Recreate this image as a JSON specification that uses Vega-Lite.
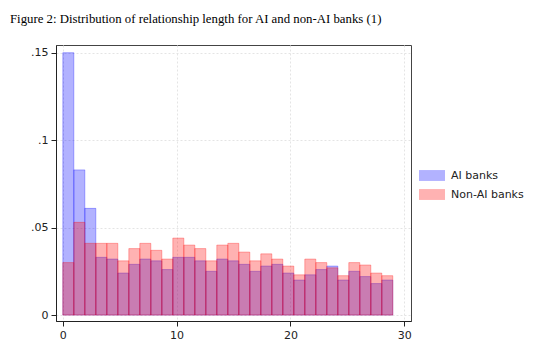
{
  "$schema": "https://vega.github.io/schema/vega-lite/v6.json",
  "autosize": {"type": "none"},
  "width": 355,
  "height": 276,
  "padding": {"left": 56, "top": 45, "right": 127, "bottom": 38},
  "background": "white",
  "title": {
    "text": "Figure 2: Distribution of relationship length for AI and non-AI banks (1)",
    "anchor": "start",
    "frame": "group",
    "dx": -46,
    "offset": 9,
    "baseline": "alphabetic",
    "font": "Liberation Serif",
    "fontSize": 12.8,
    "fontWeight": "normal",
    "color": "black"
  },
  "config": {
    "view": {"stroke": "#444", "strokeWidth": 1},
    "axis": {
      "labelFont": "DejaVu Sans",
      "labelFontSize": 11,
      "labelColor": "#222",
      "domainColor": "#222",
      "tickColor": "#222",
      "tickSize": 5,
      "gridColor": "#e4e4e4",
      "gridDash": [2, 2],
      "gridWidth": 1,
      "title": null
    }
  },
  "data": {
    "values": [
      {"group": "AI banks", "start": 0, "end": 0.9667, "density": 0.150},
      {"group": "AI banks", "start": 0.9667, "end": 1.9333, "density": 0.083},
      {"group": "AI banks", "start": 1.9333, "end": 2.9, "density": 0.061},
      {"group": "AI banks", "start": 2.9, "end": 3.8667, "density": 0.033},
      {"group": "AI banks", "start": 3.8667, "end": 4.8333, "density": 0.032},
      {"group": "AI banks", "start": 4.8333, "end": 5.8, "density": 0.024},
      {"group": "AI banks", "start": 5.8, "end": 6.7667, "density": 0.029},
      {"group": "AI banks", "start": 6.7667, "end": 7.7333, "density": 0.032},
      {"group": "AI banks", "start": 7.7333, "end": 8.7, "density": 0.031},
      {"group": "AI banks", "start": 8.7, "end": 9.6667, "density": 0.026},
      {"group": "AI banks", "start": 9.6667, "end": 10.6333, "density": 0.033},
      {"group": "AI banks", "start": 10.6333, "end": 11.6, "density": 0.033},
      {"group": "AI banks", "start": 11.6, "end": 12.5667, "density": 0.031},
      {"group": "AI banks", "start": 12.5667, "end": 13.5333, "density": 0.025},
      {"group": "AI banks", "start": 13.5333, "end": 14.5, "density": 0.032},
      {"group": "AI banks", "start": 14.5, "end": 15.4667, "density": 0.031},
      {"group": "AI banks", "start": 15.4667, "end": 16.4333, "density": 0.029},
      {"group": "AI banks", "start": 16.4333, "end": 17.4, "density": 0.025},
      {"group": "AI banks", "start": 17.4, "end": 18.3667, "density": 0.028},
      {"group": "AI banks", "start": 18.3667, "end": 19.3333, "density": 0.029},
      {"group": "AI banks", "start": 19.3333, "end": 20.3, "density": 0.024},
      {"group": "AI banks", "start": 20.3, "end": 21.2667, "density": 0.020},
      {"group": "AI banks", "start": 21.2667, "end": 22.2333, "density": 0.023},
      {"group": "AI banks", "start": 22.2333, "end": 23.2, "density": 0.026},
      {"group": "AI banks", "start": 23.2, "end": 24.1667, "density": 0.028},
      {"group": "AI banks", "start": 24.1667, "end": 25.1333, "density": 0.020},
      {"group": "AI banks", "start": 25.1333, "end": 26.1, "density": 0.025},
      {"group": "AI banks", "start": 26.1, "end": 27.0667, "density": 0.022},
      {"group": "AI banks", "start": 27.0667, "end": 28.0333, "density": 0.018},
      {"group": "AI banks", "start": 28.0333, "end": 29, "density": 0.020},
      {"group": "Non-AI banks", "start": 0, "end": 0.9667, "density": 0.030},
      {"group": "Non-AI banks", "start": 0.9667, "end": 1.9333, "density": 0.053},
      {"group": "Non-AI banks", "start": 1.9333, "end": 2.9, "density": 0.041},
      {"group": "Non-AI banks", "start": 2.9, "end": 3.8667, "density": 0.041},
      {"group": "Non-AI banks", "start": 3.8667, "end": 4.8333, "density": 0.041},
      {"group": "Non-AI banks", "start": 4.8333, "end": 5.8, "density": 0.031},
      {"group": "Non-AI banks", "start": 5.8, "end": 6.7667, "density": 0.038},
      {"group": "Non-AI banks", "start": 6.7667, "end": 7.7333, "density": 0.041},
      {"group": "Non-AI banks", "start": 7.7333, "end": 8.7, "density": 0.037},
      {"group": "Non-AI banks", "start": 8.7, "end": 9.6667, "density": 0.032},
      {"group": "Non-AI banks", "start": 9.6667, "end": 10.6333, "density": 0.044},
      {"group": "Non-AI banks", "start": 10.6333, "end": 11.6, "density": 0.040},
      {"group": "Non-AI banks", "start": 11.6, "end": 12.5667, "density": 0.038},
      {"group": "Non-AI banks", "start": 12.5667, "end": 13.5333, "density": 0.031},
      {"group": "Non-AI banks", "start": 13.5333, "end": 14.5, "density": 0.040},
      {"group": "Non-AI banks", "start": 14.5, "end": 15.4667, "density": 0.041},
      {"group": "Non-AI banks", "start": 15.4667, "end": 16.4333, "density": 0.036},
      {"group": "Non-AI banks", "start": 16.4333, "end": 17.4, "density": 0.031},
      {"group": "Non-AI banks", "start": 17.4, "end": 18.3667, "density": 0.035},
      {"group": "Non-AI banks", "start": 18.3667, "end": 19.3333, "density": 0.032},
      {"group": "Non-AI banks", "start": 19.3333, "end": 20.3, "density": 0.028},
      {"group": "Non-AI banks", "start": 20.3, "end": 21.2667, "density": 0.023},
      {"group": "Non-AI banks", "start": 21.2667, "end": 22.2333, "density": 0.032},
      {"group": "Non-AI banks", "start": 22.2333, "end": 23.2, "density": 0.030},
      {"group": "Non-AI banks", "start": 23.2, "end": 24.1667, "density": 0.027},
      {"group": "Non-AI banks", "start": 24.1667, "end": 25.1333, "density": 0.0225},
      {"group": "Non-AI banks", "start": 25.1333, "end": 26.1, "density": 0.030},
      {"group": "Non-AI banks", "start": 26.1, "end": 27.0667, "density": 0.0286},
      {"group": "Non-AI banks", "start": 27.0667, "end": 28.0333, "density": 0.024},
      {"group": "Non-AI banks", "start": 28.0333, "end": 29, "density": 0.0225}
    ]
  },
  "mark": {
    "type": "bar",
    "fillOpacity": 0.3,
    "strokeOpacity": 0.3,
    "strokeWidth": 1,
    "cornerRadius": 0
  },
  "encoding": {
    "x": {
      "field": "start",
      "type": "quantitative",
      "scale": {"domain": [-0.6, 30.6], "nice": false, "zero": false},
      "axis": {"values": [0, 10, 20, 30], "grid": true, "labelPadding": 3}
    },
    "x2": {"field": "end"},
    "y": {
      "field": "density",
      "type": "quantitative",
      "stack": null,
      "scale": {"domain": [-0.0034, 0.1544], "nice": false, "zero": false},
      "axis": {
        "values": [0, 0.05, 0.1, 0.15],
        "grid": true,
        "labelExpr": "datum.value === 0 ? '0' : replace(format(datum.value, '~g'), '0.', '.')",
        "labelPadding": 3
      }
    },
    "y2": {"datum": 0},
    "color": {
      "field": "group",
      "type": "nominal",
      "scale": {"domain": ["AI banks", "Non-AI banks"], "range": ["#0000ff", "#ff0000"]},
      "legend": {
        "title": null,
        "orient": "none",
        "legendX": 363,
        "legendY": 117.5,
        "padding": 0,
        "symbolType": "M-1,-0.42H1V0.42H-1Z",
        "symbolSize": 676,
        "symbolOpacity": 0.3,
        "symbolStrokeWidth": 0,
        "labelFont": "DejaVu Sans",
        "labelFontSize": 11,
        "labelColor": "#222",
        "labelOffset": 6,
        "rowPadding": -3
      }
    },
    "stroke": {"field": "group", "type": "nominal", "scale": {"domain": ["AI banks", "Non-AI banks"], "range": ["#0000ff", "#ff0000"]}, "legend": null},
    "order": {"field": "group"}
  }
}
